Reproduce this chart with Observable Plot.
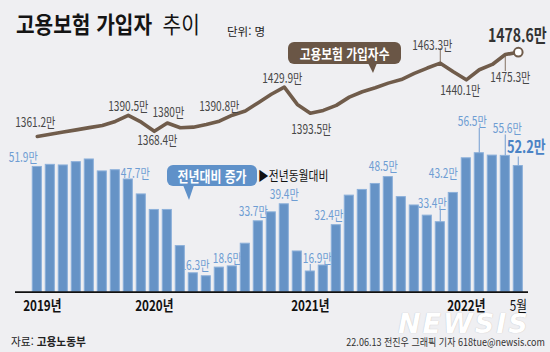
<!DOCTYPE html>
<html lang="ko"><head><meta charset="utf-8">
<script src="https://cdn.jsdelivr.net/npm/d3@7"></script>
<script src="https://cdn.jsdelivr.net/npm/@observablehq/plot@0.6"></script>
<style>
html,body{margin:0;padding:0;background:#efeff2;}
#wrap{position:relative;width:550px;height:352px;overflow:hidden;background:#efeff2;font-family:"Noto Sans CJK KR",sans-serif;}
#charts svg{position:absolute;left:0;top:0;}
.abs{position:absolute;white-space:nowrap;}
#title{left:16px;top:11.5px;font-size:23px;line-height:23px;color:#141414;transform:scaleX(0.88);transform-origin:0 50%;}
#title b{font-weight:700;}
#title .light{font-weight:400;margin-left:12px;}
#unit{left:227px;top:24.5px;font-size:11.5px;line-height:12px;color:#222;}
.callout{position:absolute;border-radius:6px;color:#fff;font-weight:700;display:flex;align-items:center;justify-content:center;white-space:nowrap;}
.callout span{display:inline-block;}
#cbrown{left:288px;top:42px;width:113px;height:22px;background:#6a5646;}
#cbrown span{font-size:13.5px;transform:scaleX(0.87);}
#tbrown{position:absolute;left:368px;top:63px;width:0;height:0;border-left:5px solid transparent;border-right:4px solid transparent;border-top:10px solid #6a5646;}
#cblue{left:167px;top:165px;width:90px;height:21px;background:#5f91c9;}
#cblue span{font-size:14.5px;transform:scaleX(0.82);}
#tblue{position:absolute;left:183px;top:185px;width:0;height:0;border-left:6px solid transparent;border-right:5px solid transparent;border-top:15px solid #5f91c9;}
#yoynote{left:258px;top:167px;font-size:13px;line-height:16px;color:#111;transform:scaleX(0.83);transform-origin:0 50%;}
#wm{left:398px;top:314.4px;font-family:"DejaVu Sans",sans-serif;font-weight:700;font-style:italic;font-size:27px;line-height:20px;height:20px;color:#fff;letter-spacing:2px;text-shadow:0 0 1px rgba(0,0,0,0.25);}
#src{left:11px;top:334px;font-size:11.5px;line-height:14px;color:#222;transform:scaleX(0.93);transform-origin:0 50%;}
#src b{font-weight:700;}
#credit{right:5px;top:335px;font-size:10.5px;line-height:13px;color:#333;transform:scaleX(0.86);transform-origin:100% 50%;}
</style></head>
<body>
<div id="wrap">
  <div id="charts"></div>
  <div class="abs" id="title"><b>고용보험 가입자</b><span class="light">추이</span></div>
  <div class="abs" id="unit">단위: 명</div>
  <div class="callout" id="cbrown"><span>고용보험 가입자수</span></div>
  <div id="tbrown"></div>
  <div class="callout" id="cblue"><span>전년대비 증가</span></div>
  <div id="tblue"></div>
  <div class="abs" id="yoynote">▶전년동월대비</div>
  <div class="abs" id="wm">NEWSIS</div>
  <div class="abs" id="src">자료: <b>고용노동부</b></div>
  <div class="abs" id="credit">22.06.13 전진우 그래픽 기자 618tue@newsis.com</div>
</div>
<script>
// ---- data ----
const months = [
  "2019-04","2019-05","2019-06","2019-07","2019-08","2019-09","2019-10","2019-11","2019-12",
  "2020-01","2020-02","2020-03","2020-04","2020-05","2020-06","2020-07","2020-08","2020-09","2020-10","2020-11","2020-12",
  "2021-01","2021-02","2021-03","2021-04","2021-05","2021-06","2021-07","2021-08","2021-09","2021-10","2021-11","2021-12",
  "2022-01","2022-02","2022-03","2022-04","2022-05"
];
// 고용보험 가입자수 (만 명)
const subscribers = [
  1361.2, 1364.3, 1367.3, 1370.4, 1373.5, 1376.5, 1382.1, 1390.5, 1381.1,
  1368.4, 1380.0, 1373.3, 1374.2, 1377.9, 1382.5, 1390.8, 1396.6, 1408.3, 1420.0, 1429.9, 1405.8,
  1393.5, 1397.5, 1404.5, 1416.0, 1423.5, 1429.0, 1435.5, 1440.5, 1449.0, 1456.5, 1463.3, 1451.3,
  1440.1, 1454.1, 1461.5, 1475.3, 1478.6
];
// 전년동월대비 증가 (만 명)
const yoyIncrease = [
  51.9, 52.6, 52.4, 53.5, 54.4, 50.4, 50.8, 47.7, 42.7,
  37.5, 37.5, 25.4, 16.3, 15.3, 18.2, 18.6, 26.2, 33.7, 36.7, 39.4, 23.6,
  16.9, 18.9, 32.4, 42.3, 44.2, 46.2, 48.5, 41.8, 39.0, 35.6, 33.4, 43.2,
  54.8, 56.5, 55.7, 55.6, 52.2
];
const yearTickMonths = ["2019-04", "2020-01", "2021-01", "2022-01"];
const yearTickLabels = ["2019년", "2020년", "2021년", "2022년"];
const lastTickMonth = "2022-05";
const lastTickLabel = "5월";

// label placement (index into months, pixel offsets, leader length in data units)
const barNotes = [
  {i: 0, dx: -14, dy: -9.5}, {i: 7, dx: 7, dy: -6}, {i: 12, dx: 1.7, dy: -7.8},
  {i: 15, dx: -5, dy: -8}, {i: 17, dx: -5, dy: -9}, {i: 19, dx: 0, dy: -9},
  {i: 21, dx: 7, dy: -13, lead: 2.3}, {i: 23, dx: -7.5, dy: -9.7}, {i: 27, dx: -5, dy: -10},
  {i: 31, dx: -8, dy: -18.7, lead: 4.2}, {i: 32, dx: -10, dy: -19.4},
  {i: 34, dx: -7, dy: -31, lead: 8.3}, {i: 36, dx: 2, dy: -27.4, lead: 7},
  {i: 37, dx: 8, dy: -18.5, lead: 3, strong: true}
];
const lineNotes = [
  {i: 0, dx: -2, dy: -14}, {i: 7, dx: 0, dy: -8.5}, {i: 9, dx: 3, dy: 10},
  {i: 10, dx: 1, dy: -10}, {i: 15, dx: -13, dy: -8.5}, {i: 19, dx: -2, dy: -8.7},
  {i: 21, dx: 1, dy: 17}, {i: 31, dx: -8, dy: -17.7, lead: 20.5}, {i: 33, dx: -6, dy: 10.7},
  {i: 36, dx: 5, dy: 23, lead: -23.5}, {i: 37, dx: -1, dy: -15.7, strong: true}
];

const rows = months.map((m, i) => ({month: m, subs: subscribers[i], yoy: yoyIncrease[i]}));

const BAR = "#6693c6", BAR_EDGE = "#8cb0da", BAR_TEXT = "#6e9dd3", BAR_LEAD = "#86aad6";
const LINE = "#705c4b", LINE_TEXT = "#474747";
const BASE = 10;

const fmtLine = v => (Math.abs(v - Math.round(v)) < 1e-9 ? String(Math.round(v)) : v.toFixed(1)) + "만";
const fmtBar = v => v.toFixed(1) + "만";

const xOpts = {type: "band", domain: months, range: [30.3, 524.3], paddingInner: 0.3, paddingOuter: 0.15, axis: null};
const common = {width: 550, height: 352, marginLeft: 15, marginRight: 22,
  style: {background: "transparent", fontFamily: "Noto Sans CJK KR", overflow: "visible"}};

// ---- bar plot ----
const barLabelMarks = barNotes.map(n => Plot.text([rows[n.i]], {
  x: "month", y: "yoy", text: d => fmtBar(d.yoy), dx: n.dx, dy: n.dy,
  fill: n.strong ? "#4a83c5" : BAR_TEXT, fontSize: n.strong ? 16.5 : 13, fontWeight: n.strong ? 700 : 400
}));
const barLeads = barNotes.filter(n => n.lead).map(n => ({month: months[n.i], y1: yoyIncrease[n.i], y2: yoyIncrease[n.i] + n.lead}));

const barPlot = Plot.plot({
  ...common, marginTop: 142.25, marginBottom: 60.4,
  x: xOpts,
  y: {domain: [BASE, 60], axis: null},
  marks: [
    ...barLabelMarks,
    Plot.barY(rows, {x: "month", y1: () => BASE, y2: "yoy", fill: BAR, stroke: BAR_EDGE, strokeWidth: 1}),
    Plot.ruleX(barLeads, {x: "month", y1: "y1", y2: "y2", stroke: BAR_LEAD, strokeWidth: 1.2}),
    Plot.ruleY([BASE], {stroke: "#111", strokeWidth: 1.6}),
    Plot.text(yearTickMonths.slice(0, 1).map((m, k) => ({month: m, label: yearTickLabels[k]})), {
      x: "month", y: () => BASE, text: "label", dy: 14.5, dx: 5, fontSize: 15, fontWeight: 700, fill: "#111"}),
    Plot.text(yearTickMonths.slice(1).map((m, k) => ({month: m, label: yearTickLabels[k + 1]})), {
      x: "month", y: () => BASE, text: "label", dy: 14.5, fontSize: 15, fontWeight: 700, fill: "#111"}),
    Plot.text([{month: lastTickMonth, label: lastTickLabel}], {
      x: "month", y: () => BASE, text: "label", dy: 14.5, fontSize: 15, fontWeight: 400, fill: "#111"})
  ]
});

// ---- line plot ----
const lineLabelMarks = lineNotes.map(n => Plot.text([rows[n.i]], {
  x: "month", y: "subs", text: d => fmtLine(d.subs), dx: n.dx, dy: n.dy,
  fill: n.strong ? "#333" : LINE_TEXT, fontSize: n.strong ? 18 : 13, fontWeight: n.strong ? 700 : 400
}));
const lineLeads = lineNotes.filter(n => n.lead).map(n => ({month: months[n.i], y1: subscribers[n.i], y2: subscribers[n.i] + n.lead}));

const linePlot = Plot.plot({
  ...common, marginTop: 36.3, marginBottom: 200.8,
  x: xOpts,
  y: {domain: [1340, 1500], axis: null},
  marks: [
    Plot.ruleX(lineLeads, {x: "month", y1: "y1", y2: "y2", stroke: "#8d7d70", strokeWidth: 1.1}),
    Plot.line(rows, {x: "month", y: "subs", stroke: LINE, strokeWidth: 3.6, strokeLinejoin: "round"}),
    ...lineLabelMarks,
    Plot.dot([rows[rows.length - 1]], {x: "month", y: "subs", r: 4.3, fill: "#fff", stroke: LINE, strokeWidth: 2})
  ]
});

function condense(svg, s) {
  svg.querySelectorAll("text").forEach(t => {
    const tr = t.getAttribute("transform");
    if (tr) t.setAttribute("transform", tr + ` scale(${s},1)`);
    else {
      const x = +t.getAttribute("x") || 0, y = +t.getAttribute("y") || 0;
      t.removeAttribute("x"); t.removeAttribute("y");
      t.setAttribute("transform", `translate(${x},${y}) scale(${s},1)`);
    }
  });
}
condense(barPlot, 0.78);
condense(linePlot, 0.78);
const holder = document.getElementById("charts");
holder.appendChild(barPlot);
holder.appendChild(linePlot);
</script>
</body></html>
